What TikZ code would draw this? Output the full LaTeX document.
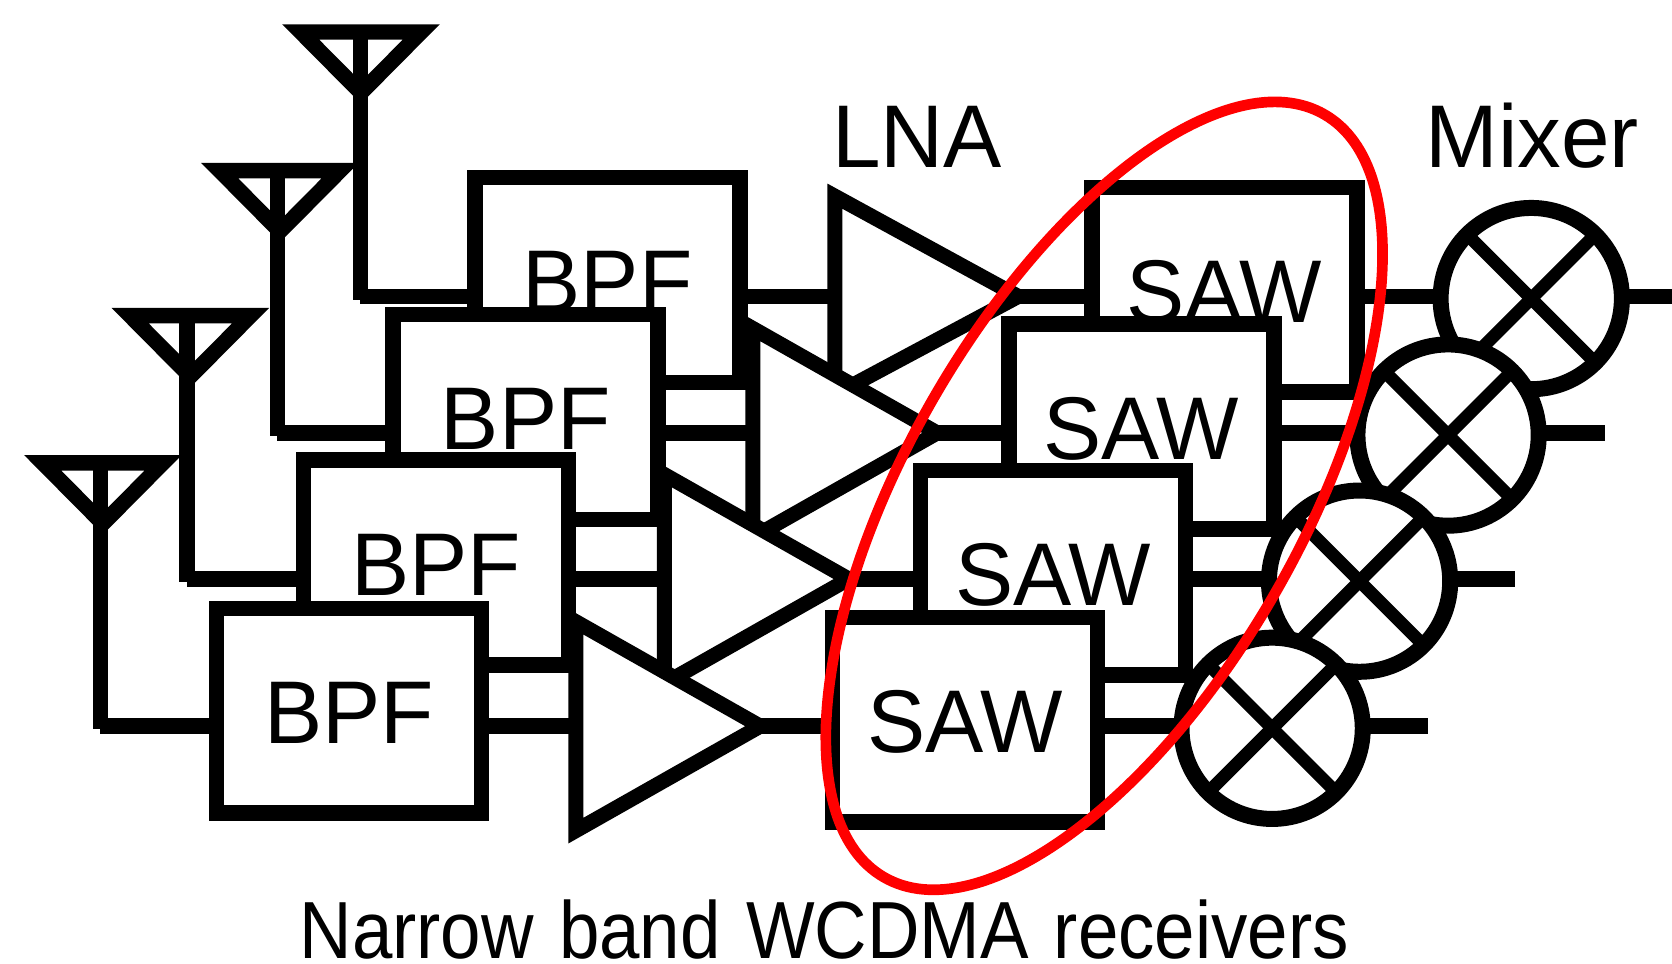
\documentclass[tikz,border=0pt]{standalone}
\usepackage{fontspec}
\setmainfont[FakeStretch=0.98]{Liberation Sans}
\newfontfamily\capfont[FakeStretch=0.897]{Liberation Sans}
\tikzset{
  wire/.style={line width=14.5pt,line cap=butt,draw=black},
  box/.style={draw=black,fill=white,line width=14.5pt,rectangle,minimum width=248.5pt,minimum height=192pt,inner sep=0pt,outer sep=0pt,text height=66pt,text depth=5pt,font=\fontsize{83.5}{95}\selectfont},
  amp/.style={draw=black,fill=white,line width=14pt,line join=miter},
  aerial/.style={draw=black,line width=14.5pt,line join=miter},
  mixer/.style={draw=black,fill=white,line width=15pt,circle,minimum size=170pt,inner sep=0pt,outer sep=0pt},
  cross/.style={line width=12pt,draw=black},
  lab/.style={anchor=base,inner sep=0pt,font=\fontsize{83.5}{95}\selectfont},
  ring/.style={draw=red,line width=10pt}
}
\begin{document}
\begin{tikzpicture}[x=1pt,y=-1pt]
\useasboundingbox (0,0) rectangle (1568,904);
% row levels
\coordinate (r1) at (0,278);
\coordinate (r2) at (0,406);
\coordinate (r3) at (0,543);
\coordinate (r4) at (0,681);
\coordinate (e1) at (1568,278);
\coordinate (e2) at (1505,406);
\coordinate (e3) at (1421,543);
\coordinate (e4) at (1339,681);
% ---------- chain 1
\coordinate (a1l) at (282,30); \coordinate (a1r) at (395,30); \coordinate (a1t) at (338.5,87);
\coordinate (a1s) at (338,30); \coordinate (a1c) at (338,281);
\coordinate (t1a) at (783,184); \coordinate (t1b) at (783,370); \coordinate (t1c) at (955,278);
\draw[aerial] (a1l) -- (a1r) -- (a1t) -- cycle;
\draw[wire] (a1s) -- (a1c);
\draw[wire] (a1s |- r1) -- (569,278);
\node[box] (b1) at (569.7,262.5) {BPF};
\draw[wire] (b1.east |- r1) -- (t1a |- r1);
\draw[amp] (t1a) -- (t1c) -- (t1b) -- cycle;
\draw[wire] (t1c) -- (1148,278);
\node[box] (s1) at (1148.3,271.6) {SAW};
\draw[wire] (s1.east |- r1) -- (1436,278);
\node[mixer] (m1) at (1436,280) {};
\draw[cross] (m1.45) -- (m1.225);
\draw[cross] (m1.135) -- (m1.315);
\draw[wire] (m1.east |- e1) -- (e1);
% ---------- chain 2
\coordinate (a2l) at (206,160); \coordinate (a2r) at (319,160); \coordinate (a2t) at (262.5,217);
\coordinate (a2s) at (260,160); \coordinate (a2c) at (260,409);
\coordinate (t2a) at (706,308); \coordinate (t2b) at (706,504); \coordinate (t2c) at (879,406);
\draw[aerial] (a2l) -- (a2r) -- (a2t) -- cycle;
\draw[wire] (a2s) -- (a2c);
\draw[wire] (a2s |- r2) -- (493,406);
\node[box] (b2) at (493,391) {BPF};
\draw[wire] (b2.east |- r2) -- (t2a |- r2);
\draw[amp] (t2a) -- (t2c) -- (t2b) -- cycle;
\draw[wire] (t2c) -- (1070,406);
\node[box] (s2) at (1070.5,400) {SAW};
\draw[wire] (s2.east |- r2) -- (1358,406);
\node[mixer] (m2) at (1358,408) {};
\draw[cross] (m2.45) -- (m2.225);
\draw[cross] (m2.135) -- (m2.315);
\draw[wire] (m2.east |- e2) -- (e2);
% ---------- chain 3
\coordinate (a3l) at (122,296); \coordinate (a3r) at (235,296); \coordinate (a3t) at (178.5,353);
\coordinate (a3s) at (175.5,296); \coordinate (a3c) at (175.5,546);
\coordinate (t3a) at (623,445); \coordinate (t3b) at (623,641); \coordinate (t3c) at (796,543);
\draw[aerial] (a3l) -- (a3r) -- (a3t) -- cycle;
\draw[wire] (a3s) -- (a3c);
\draw[wire] (a3s |- r3) -- (408,543);
\node[box] (b3) at (408.8,527.5) {BPF};
\draw[wire] (b3.east |- r3) -- (t3a |- r3);
\draw[amp] (t3a) -- (t3c) -- (t3b) -- cycle;
\draw[wire] (t3c) -- (987,543);
\node[box] (s3) at (987.5,537) {SAW};
\draw[wire] (s3.east |- r3) -- (1275,543);
\node[mixer] (m3) at (1275,545) {};
\draw[cross] (m3.45) -- (m3.225);
\draw[cross] (m3.135) -- (m3.315);
\draw[wire] (m3.east |- e3) -- (e3);
% ---------- chain 4
\coordinate (a4l) at (40,434); \coordinate (a4r) at (153,434); \coordinate (a4t) at (96.5,491);
\coordinate (a4s) at (94,434); \coordinate (a4c) at (94,684);
\coordinate (t4a) at (540,583); \coordinate (t4b) at (540,779); \coordinate (t4c) at (713,681);
\draw[aerial] (a4l) -- (a4r) -- (a4t) -- cycle;
\draw[wire] (a4s) -- (a4c);
\draw[wire] (a4s |- r4) -- (327,681);
\node[box] (b4) at (327.5,666.5) {BPF};
\draw[wire] (b4.east |- r4) -- (t4a |- r4);
\draw[amp] (t4a) -- (t4c) -- (t4b) -- cycle;
\draw[wire] (t4c) -- (905,681);
\node[box] (s4) at (905,675) {SAW};
\draw[wire] (s4.east |- r4) -- (1193,681);
\node[mixer] (m4) at (1193,683) {};
\draw[cross] (m4.45) -- (m4.225);
\draw[cross] (m4.135) -- (m4.315);
\draw[wire] (m4.east |- e4) -- (e4);
% ---------- labels
\node[lab] (lna) at (860,157) {LNA};
\node[lab] (mix) at (1437,157) {Mixer};
\node[lab,font=\capfont\fontsize{76}{86}\selectfont] (cap) at (773,899) {\spaceskip=23.7pt Narrow band WCDMA receivers};
% ---------- ring
\draw[ring,rotate around={60:(1035.5,465)}] (1035.5,465) ellipse [x radius=413pt,y radius=184.4pt];
\end{tikzpicture}
\end{document}
